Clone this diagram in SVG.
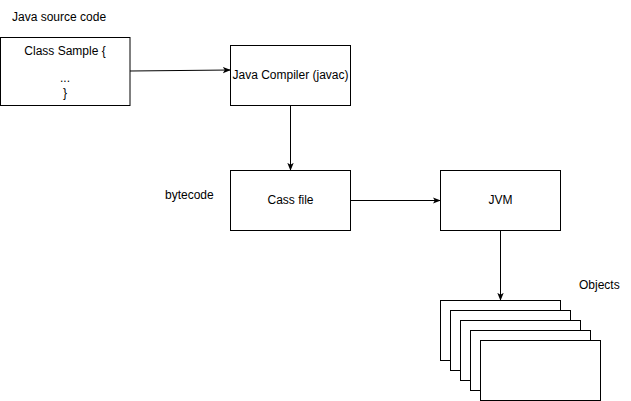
<svg xmlns="http://www.w3.org/2000/svg" width="631" height="401" viewBox="0 0 631 401">
<style>
.box{fill:#fff;stroke:#000;stroke-width:1}
text{font-family:"Liberation Sans",Arial,sans-serif;font-size:12px;fill:#000}
.c{text-anchor:middle}
.edge{fill:none;stroke:#000;stroke-width:1}
</style>
<defs>
<marker id="arr" viewBox="0 0 10 10" refX="9" refY="5" markerWidth="8" markerHeight="8" markerUnits="userSpaceOnUse" orient="auto">
<path d="M0,1 L10,5 L0,9 L2.5,5 Z" fill="#000"/>
</marker>
</defs>
<rect width="631" height="401" fill="#fff"/>
<text x="12" y="21">Java source code</text>
<text x="165" y="199">bytecode</text>
<text x="579" y="289">Objects</text>
<g id="source">
<rect class="box" x="0.5" y="37.5" width="129.5" height="68"/>
<text class="c" x="65" y="55">Class Sample {</text>
<text class="c" x="65" y="82">...</text>
<text class="c" x="65" y="97">}</text>
</g>
<g id="compiler">
<rect class="box" x="230.5" y="45.5" width="120" height="60"/>
<text class="c" x="290.5" y="79">Java Compiler (javac)</text>
</g>
<g id="classfile">
<rect class="box" x="230.5" y="170.5" width="120" height="60"/>
<text class="c" x="290.5" y="204">Cass file</text>
</g>
<g id="jvm">
<rect class="box" x="440.5" y="170.5" width="120" height="60"/>
<text class="c" x="500.5" y="204">JVM</text>
</g>
<g id="objects">
<rect class="box" x="440.5" y="300.5" width="120" height="60"/>
<rect class="box" x="450.5" y="310.5" width="120" height="60"/>
<rect class="box" x="460.5" y="320.5" width="120" height="60"/>
<rect class="box" x="470.5" y="330.5" width="120" height="60"/>
<rect class="box" x="480.5" y="340.5" width="120" height="60"/>
</g>
<g id="connectors">
<path class="edge" d="M130,71 L230,70" marker-end="url(#arr)"/>
<path class="edge" d="M290.5,105.5 L290.5,170" marker-end="url(#arr)"/>
<path class="edge" d="M350.5,200.5 L440,200.5" marker-end="url(#arr)"/>
<path class="edge" d="M500.5,230.5 L500.5,300" marker-end="url(#arr)"/>
</g>
</svg>
